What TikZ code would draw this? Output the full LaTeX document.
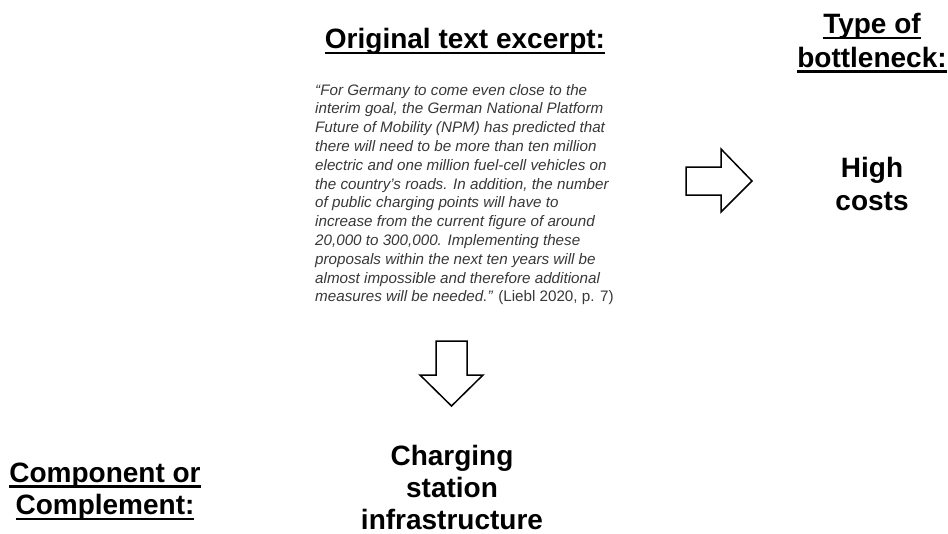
\documentclass[tikz,border=0pt]{standalone}
\usepackage{fontspec}
\setmainfont{Liberation Sans}
\definecolor{quotegray}{HTML}{383838}
% text with a fixed-offset underline (crosses descenders)
\newsavebox\ulinebox
\newcommand\ulined[1]{\sbox\ulinebox{#1}\rlap{\vrule height -3.3pt depth 5.8pt width \wd\ulinebox}\usebox\ulinebox}
\begin{document}
\begin{tikzpicture}[x=1pt,y=-1pt,
  heading/.style={font=\fontsize{28}{32}\selectfont\bfseries, inner sep=0pt, anchor=base},
  quoteline/.style={font=\fontsize{15.2}{18.8}\selectfont\itshape, text=quotegray, inner sep=0pt, anchor=base west},
  blockarrow/.style={draw=black, fill=white, line width=1.5pt, line join=miter}]
\useasboundingbox (0,0) rectangle (948,533);

% headings
\node[heading] (excerpt) at (465,48.5) {\ulined{Original text excerpt:}};
\node[heading] (type1) at (872,33.5) {\ulined{Type of}};
\node[heading] (type2) at (872,67) {\ulined{bottleneck:}};
\node[heading] (comp1) at (105,482) {\ulined{Component or}};
\node[heading] (comp2) at (105,514.5) {\ulined{Complement:}};

% results
\node[heading] (cost1) at (872,177.5) {High};
\node[heading] (cost2) at (872,210) {costs};
\node[heading] (inf1) at (452,465) {Charging};
\node[heading] (inf2) at (452,497.5) {station};
\node[heading] (inf3) at (452,529.5) {infrastructure};

% quotation
\node[quoteline] (q1)  at (315,95.0)  {“For Germany to come even close to the};
\node[quoteline] (q2)  at (315,113.8) {interim goal, the German National Platform};
\node[quoteline] (q3)  at (315,132.6) {Future of Mobility (NPM) has predicted that};
\node[quoteline] (q4)  at (315,151.4) {there will need to be more than ten million};
\node[quoteline] (q5)  at (315,170.2) {electric and one million fuel-cell vehicles on};
\node[quoteline] (q6)  at (315,189.0) {the country’s roads. In addition, the number};
\node[quoteline] (q7)  at (315,207.8) {of public charging points will have to};
\node[quoteline] (q8)  at (315,226.6) {increase from the current figure of around};
\node[quoteline] (q9)  at (315,245.4) {20,000 to 300,000. Implementing these};
\node[quoteline] (q10) at (315,264.2) {proposals within the next ten years will be};
\node[quoteline] (q11) at (315,283.0) {almost impossible and therefore additional};
\node[quoteline] (q12) at (315,301.8) {measures will be needed.” \upshape(Liebl 2020, p. 7)};

% block arrows
\draw[blockarrow] (686,167) -- (721,167) -- (721,149) -- (752,181)
  -- (721,212) -- (721,195) -- (686,195) -- cycle;
\draw[blockarrow] (436,341) -- (467,341) -- (467,375) -- (483,375)
  -- (451.5,406) -- (420,375) -- (436,375) -- cycle;
\end{tikzpicture}
\end{document}
